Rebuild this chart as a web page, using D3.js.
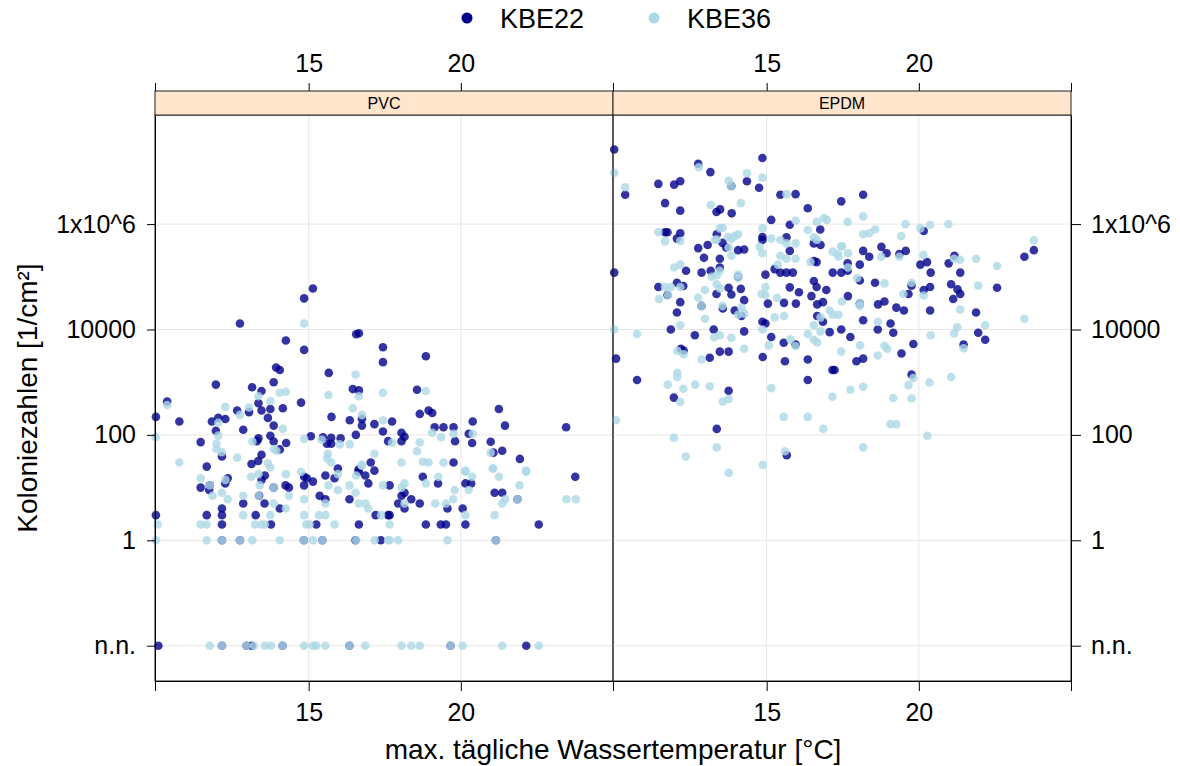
<!DOCTYPE html>
<html>
<head>
<meta charset="utf-8">
<script src="https://cdn.jsdelivr.net/npm/d3@7"></script>
<style>
  body { margin: 0; background: #fff; }
  text { font-family: "Liberation Sans", Arial, sans-serif; }
</style>
</head>
<body>
<svg width="1180" height="766"></svg>
<script>
// panels, groups, ticks
var panels = ["PVC", "EPDM"];
var groups = ["KBE22", "KBE36"];
var groupColors = ["#00008B", "#ADD8E6"];
var xTicks = [15, 20];
var yTicks = [0, 1, 100, 10000, 1e6];
var yTickLabels = ["n.n.", "1", "100", "10000", "1x10^6"];

// [max. daily water temperature, colony count per cm2]; 0 = n.n. (not detected)
var pvcKBE22 = [
  [15.14,60000],[14.85,39000],[12.74,13000],[14.25,6200],[14.85,4100],[16.56,8100],[16.65,8500],[17.44,4600],[17.44,2400],
  [13.93,1900],[14.05,1700],[15.66,1500],[13.85,1000],[11.95,900],[13.14,800],[13.45,680],[16.45,740],[16.65,700],
  [10.35,430],[14.75,410],[13.35,400],[9.98,220],[10.75,180],[11.82,180],[12.03,210],[12.26,200],[12.65,290],[13.04,270],
  [13.45,290],[13.74,310],[14.15,320],[13.66,210],[15.75,220],[16.35,190],[16.75,200],[16.75,150],[17.16,160],[17.44,116],
  [11.95,120],[13.85,150],[12.85,125],[13.74,96],[15.07,94],[15.47,90],[15.74,88],[16.05,86],[16.55,100],[17.61,76],
  [11.45,73],[13.35,86],[13.30,76],[13.85,75],[14.26,70],[15.60,68],[15.74,68],[14.05,53],[12.15,39],[13.45,42],
  [13.34,32],[13.12,28],[11.65,25],[17.04,30],[16.64,22],
  [18.85,3100],[18.56,720],[18.65,250],[18.94,290],[19.06,260],[17.74,180],[18.05,110],[18.15,92],[18.05,76],[19.14,140],
  [19.43,140],[19.76,140],[20.39,180],[21.25,310],[21.45,150],[20.26,105],[19.81,76],[20.37,70],[20.98,74],[21.07,46],
  [21.36,50],[21.94,35],[23.46,140],[19.76,30],
  [11.45,10],[11.73,9],[12.34,15],[12.26,12],[13.56,17],[13.45,14],[14.24,11],[14.35,10],[13.37,7],[13.55,5],[12.85,5],
  [12.15,4],[12.15,3],[11.65,3],[12.15,2],[13.26,3],[13.76,2],[14.05,4],[9.98,3],[14.85,16],[14.94,15],[15.14,13],
  [14.85,11],[15.55,17],[15.85,15],[15.96,23],[15.36,7],[15.55,6],[15.25,2],[16.34,6],[16.65,2],[16.64,20],[16.86,17],
  [17.16,21],[16.96,12],[17.20,3],[17.61,3],[17.37,1],[16.54,1],[10.06,0],
  [18.75,16],[19.25,12],[17.66,11],[18.15,8],[18.05,7],[18.37,6],[17.94,5],[18.15,4],[18.65,5],[19.56,4],[20.06,4],
  [20.15,12],[20.34,12],[21.11,8],[21.36,8],[23.76,16],[17.66,3],[18.85,2],[19.34,2],[19.51,2],[20.15,2],[22.56,2],[22.15,0],
  [11.75,11],[13.85,10],[21.86,6],[12.15,1],[12.74,1],[14.84,1],[15.45,1],[21.15,1],
  [12.15,0],[12.96,0],[13.13,0],[14.14,0],[16.34,0],[19.66,0]
];

var pvcKBE36 = [
  [14.85,13000],[10.35,370],[12.26,340],[16.54,1400],[15.65,570],[16.65,540],[17.44,630],[14.05,630],[14.25,660],
  [13.35,540],[13.74,440],[13.04,330],[12.74,240],[12.03,170],[16.45,320],[16.75,240],[17.44,190],[14.15,130],[12.03,97],
  [9.97,90],[14.85,84],[15.43,81],[16.35,66],[16.02,66],[13.15,75],[11.97,68],[11.97,54],[12.14,47],[13.85,54],[13.94,50],
  [15.63,44],[17.16,44],[10.75,30],[12.65,37],[13.66,29],[13.74,24],[15.74,30],[15.61,36],[16.75,27],
  [18.85,680],[19.06,110],[19.35,90],[19.76,105],[20.39,105],[18.65,72],[18.56,49],[17.74,71],[20.98,46],[18.05,30],
  [18.75,31],[18.94,30],[19.43,30],[20.15,21],[21.06,23],[22.14,21],
  [11.45,15],[11.75,11],[11.84,7],[12.15,8],[12.34,6],[12.26,14],[13.11,16],[13.35,18],[13.39,11],[13.35,7],[12.85,7],
  [13.85,10],[14.25,18],[14.35,7],[13.85,5],[14.25,4],[13.74,3],[12.85,3],[11.45,2],[11.65,2],[13.24,2],[13.44,2],
  [13.56,2],[14.85,6],[14.75,20],[14.85,3],[14.92,2],[15.03,2],[15.34,3],[15.55,3],[15.55,5],[15.65,11],[15.96,9],
  [15.96,18],[15.85,2],[16.34,11],[16.54,8],[16.74,26],[16.65,5],[16.87,5],[16.96,4],[16.56,17],[17.44,11],[10.04,2],[9.98,1],
  [11.65,1],[12.15,1],[12.74,1],[13.15,1],[14.05,1],[14.84,1],[15.14,1],[15.45,1],[16.56,1],[17.17,1],[17.61,1],
  [17.66,1],[17.94,1],[19.56,1],[21.15,1],
  [11.75,0],[12.15,0],[12.96,0],[13.20,0],[13.56,0],[13.76,0],[14.14,0],[14.85,0],[15.14,0],[15.25,0],[15.55,0],
  [16.34,0],[16.86,0],[18.05,0],[18.37,0],[18.65,0],[19.66,0],[20.06,0],[21.36,0],[22.56,0],
  [20.15,20],[20.37,16],[19.26,16],[21.05,23],[21.25,16],[22.15,20],[21.93,11],[18.85,12],[18.15,12],[18.05,10],
  [18.15,5],[19.80,9],[20.26,9],[19.75,6],[19.51,5],[19.16,5],[21.46,6],[21.36,5],[21.86,6],[21.11,3],[20.15,3],
  [17.38,3],[17.66,2],[23.47,6],[23.78,6]
];

var epdmKBE22 = [
  [9.99,2.6e7],[14.86,1.8e7],[12.75,1.4e7],[13.15,9.7e6],[11.44,5.8e6],[11.96,5.6e6],[12.16,6.5e6],[10.35,3.6e6],
  [14.35,6.5e6],[14.75,4.9e6],[15.45,3.6e6],[15.95,3.7e6],[11.66,2.5e6],[12.16,1.8e6],[13.35,1.7e6],[13.47,1.9e6],
  [13.85,1.6e6],[16.35,2.0e6],[17.45,2.7e6],[15.15,1.2e6],[15.76,9.7e5],[11.66,7.0e5],[11.74,7.0e5],[12.16,6.7e5],
  [12.05,5.3e5],[14.86,5.7e5],[14.86,5.0e5],[15.65,5.6e5],[16.76,7.9e5],[13.36,6.4e5],[13.06,4.0e5],[12.75,3.5e5],
  [13.55,4.4e5],[13.67,3.6e5],[14.06,3.2e5],[14.26,3.3e5],[15.76,3.1e5],[16.55,4.3e5],[16.77,4.0e5],[12.94,2.3e5],
  [13.46,2.2e5],[9.99,1.2e5],[12.35,1.3e5],[12.86,1.2e5],[13.16,1.3e5],[13.46,1.5e5],[14.06,1.0e5],[14.96,1.1e5],
  [15.26,1.4e5],[15.45,1.2e5],[15.65,1.2e5],[15.86,1.2e5],[16.55,2.0e5],[16.64,1.9e5],[17.17,1.2e5],[17.45,1.2e5],
  [11.44,6.4e4],[12.05,7.7e4],[12.26,6.7e4],[11.74,4.5e4],[12.16,3.3e4],[12.05,2.1e4],[12.86,2.8e4],[13.35,4.7e4],
  [13.75,6.2e4],[13.84,4.6e4],[14.15,5.9e4],[14.26,3.6e4],[13.56,2.5e4],[13.95,2.3e4],[14.17,1.8e4],[15.76,6.3e4],
  [16.06,5.1e4],[16.55,8.3e4],[16.64,6.4e4],[16.96,5.6e4],[16.47,4.3e4],[16.66,3.0e4],[16.85,3.3e4],[15.04,3.1e4],
  [15.57,3.2e4],[15.96,3.1e4],[16.66,1.8e4],[16.85,1.4e4],[14.86,1.4e4],[14.96,1.3e4],[11.85,1.0e4],[12.64,7.8e3],
  [13.26,1.0e4],[14.26,9.2e3],[15.15,7.2e3],[17.07,8.9e3],[17.45,1.0e4],
  [18.17,3.6e6],[18.17,3.1e5],[18.77,3.7e5],[18.94,2.8e5],[18.37,2.4e5],[19.36,2.7e5],[19.57,3.1e5],[20.16,7.4e5],
  [17.66,1.8e5],[17.66,1.3e5],[18.06,1.7e5],[18.06,8.5e4],[18.56,7.7e4],[20.05,1.7e5],[20.27,1.9e5],[20.39,1.2e5],
  [19.76,6.8e4],[20.37,6.4e4],[20.16,5.6e4],[19.66,4.7e4],[20.98,1.8e5],[21.17,2.5e5],[21.36,1.2e5],[21.06,7.2e4],
  [21.27,5.8e4],[21.36,4.7e4],[21.13,3.8e4],[22.57,6.2e4],[23.47,2.4e5],[23.78,3.2e5],[17.67,4.3e4],[18.06,3.1e4],
  [18.66,3.0e4],[18.87,3.4e4],[19.26,2.6e4],[19.51,2.3e4],[20.37,2.3e4],[21.88,2.1e4],[18.17,1.5e4],[18.65,1.0e4],
  [19.07,1.3e4],[19.16,8.7e3],[17.75,7.2e3],[21.95,8.7e3],[22.18,6.4e3],
  [15.56,5.6e3],[15.95,5.2e3],[10.05,2.8e3],[12.18,4.3e3],[12.27,4.0e3],[13.46,3.8e3],[13.75,3.8e3],[13.13,2.9e3],
  [14.87,3.0e3],[15.60,2.5e3],[16.35,2.7e3],[17.16,1.7e3],[16.35,1.1e3],[10.74,1.1e3],[11.95,510],[13.75,690],
  [13.36,130],[15.66,41],
  [19.82,5.3e3],[19.43,3.5e3],[17.95,2.5e3],[18.17,2.8e3],[17.23,1.7e3],[19.76,1.4e3],[21.47,5.2e3],[13.84,5.3e6]
];

var epdmKBE36 = [
  [9.99,9.4e6],[10.35,5.0e6],[12.77,1.2e7],[14.35,9.2e6],[14.86,7.6e6],[13.75,6.6e6],[13.84,5.3e6],[15.65,3.7e6],
  [13.16,2.3e6],[14.15,2.5e6],[11.44,7.1e5],[11.66,4.7e5],[12.16,4.8e5],[13.46,8.3e5],[13.56,8.5e5],[13.30,5.0e5],
  [13.36,5.1e5],[13.73,5.7e5],[13.84,5.2e5],[13.95,5.9e5],[14.06,6.4e5],[13.75,3.6e5],[13.84,2.5e5],[14.86,8.3e5],
  [15.15,5.3e5],[15.45,5.0e5],[15.65,4.3e5],[15.95,4.3e5],[15.95,1.16e6],[16.65,1.1e6],[16.88,1.3e6],[16.98,1.2e6],
  [16.35,7.7e5],[16.55,5.6e5],[16.65,5.0e5],[14.77,3.7e5],[14.86,2.8e5],[15.45,2.5e5],[15.65,2.2e5],[15.95,2.2e5],
  [17.17,3.0e5],[17.34,2.7e5],[17.45,3.8e5],[11.96,1.5e5],[12.16,1.7e5],[13.19,1.0e5],[13.36,1.07e5],[13.46,1.3e5],
  [14.06,1.1e5],[15.37,1.7e5],[16.44,1.9e5],[11.46,3.8e4],[11.66,6.4e4],[11.85,6.4e4],[11.76,4.5e4],[12.16,6.4e4],
  [12.75,4.0e4],[12.97,5.6e4],[13.36,7.2e4],[13.46,6.0e4],[14.06,9.5e4],[14.96,6.4e4],[14.83,4.7e4],[14.96,4.5e4],
  [15.34,4.0e4],[13.55,2.8e4],[14.17,2.6e4],[14.26,2.0e4],[14.06,1.9e4],[12.16,1.2e4],[12.97,1.6e4],[15.26,1.7e4],
  [15.57,1.8e4],[16.55,1.2e4],[16.77,1.7e4],[17.07,2.3e4],[17.17,1.9e4],[10.74,8.2e3],[13.46,7.8e3],[13.84,7.0e3],
  [14.86,1.0e4],[16.35,8.2e3],[9.99,1.0e4],[12.86,2.8e4],
  [17.66,1.1e6],[18.17,1.4e6],[18.17,6.4e5],[18.37,6.7e5],[18.56,7.9e5],[19.56,1.0e6],[19.42,5.9e5],[20.05,8.3e5],
  [20.37,9.6e5],[20.97,1.0e6],[17.47,3.8e5],[17.36,2.4e5],[17.67,2.8e5],[18.76,2.4e5],[19.36,2.4e5],[20.15,2.6e5],
  [21.36,2.1e5],[21.16,2.2e5],[21.88,2.2e5],[22.57,1.6e5],[23.78,4.9e5],[17.67,1.5e5],[17.97,9.5e4],[18.87,7.5e4],
  [19.76,7.7e4],[19.49,4.7e4],[20.16,4.4e4],[21.95,6.8e4],[17.47,3.4e4],[18.06,3.2e4],[18.06,2.8e4],[17.36,1.9e4],
  [18.65,1.4e4],[21.36,2.4e4],[21.26,1.1e4],[21.16,8.4e3],[22.18,1.2e4],[23.47,1.6e4],[20.39,7.8e3],
  [13.27,7.1e3],[14.26,4.3e3],[15.07,5.0e3],[15.78,6.5e3],[16.55,6.4e3],[16.66,5.7e3],[16.77,9.2e3],[17.45,3.8e3],
  [12.07,3.9e3],[12.27,3.4e3],[12.86,2.7e3],[12.06,1.5e3],[12.06,1250],[11.75,900],[12.26,750],[12.65,900],
  [13.13,840],[12.16,420],[13.56,430],[13.75,480],[15.15,770],[17.16,530],[10.05,190],[15.56,220],[16.35,220],
  [16.86,130],[11.95,88],[13.36,58],[12.34,39],[15.60,49],[14.87,27],[13.75,19],[15.95,4.8e3],
  [18.07,5.0e3],[18.65,3.2e3],[18.87,4.9e3],[18.96,4.3e3],[21.47,4.4e3],[19.82,1.2e3],[19.66,880],[20.35,990],
  [21.06,1250],[17.75,720],[18.17,820],[19.16,500],[19.76,490],[19.07,160],[19.26,160],[20.28,96],[18.17,58]
];

var panelData = [[pvcKBE22, pvcKBE36], [epdmKBE22, epdmKBE36]];

// layout
var svg = d3.select("svg");
var panelLeft = 155, panelW = 458, stripTop = 91, stripH = 24, panelTop = 115, panelH = 566;
var font = "'Liberation Sans', Arial, sans-serif";

var x = d3.scaleLinear().domain([9.95, 25.0]).range([0, panelW]);
var y = d3.scaleLog().domain([Math.pow(10, -2.67), Math.pow(10, 8.07)]).range([panelH, 0]);
// n.n. is drawn at 0.01 on the log axis
function yv(c) { return y(c === 0 ? 0.01 : c); }

panels.forEach(function(name, i) {
  var px = panelLeft + i * panelW;
  var g = svg.append("g").attr("transform", "translate(" + px + "," + panelTop + ")");

  // grid
  g.selectAll(".gx").data(xTicks).enter().append("line")
    .attr("x1", d => x(d)).attr("x2", d => x(d)).attr("y1", 0).attr("y2", panelH)
    .attr("stroke", "#e6e6e6").attr("stroke-width", 1);
  g.selectAll(".gy").data(yTicks).enter().append("line")
    .attr("x1", 0).attr("x2", panelW).attr("y1", d => yv(d)).attr("y2", d => yv(d))
    .attr("stroke", "#e6e6e6").attr("stroke-width", 1);

  // points, KBE36 drawn over KBE22
  panelData[i].forEach(function(series, k) {
    g.append("g").selectAll("circle").data(series).enter().append("circle")
      .attr("cx", d => x(d[0]))
      .attr("cy", d => yv(d[1]))
      .attr("r", 4.3)
      .attr("fill", groupColors[k])
      .attr("fill-opacity", 0.8);
  });

  g.append("rect").attr("width", panelW).attr("height", panelH)
    .attr("fill", "none").attr("stroke", "#222").attr("stroke-width", 1);

  // bottom axis
  var ax = g.append("g").attr("transform", "translate(0," + panelH + ")")
    .call(d3.axisBottom(x).tickValues(xTicks).tickSize(10).tickPadding(12));
  ax.attr("font-size", 25).attr("font-family", font);

  // top axis above the strip
  var at = svg.append("g").attr("transform", "translate(" + px + "," + stripTop + ")")
    .call(d3.axisTop(x).tickValues(xTicks).tickSize(8).tickPadding(11));
  at.attr("font-size", 25).attr("font-family", font);

  // strip
  svg.append("rect")
    .attr("x", px).attr("y", stripTop).attr("width", panelW).attr("height", stripH)
    .attr("fill", "#ffe5cc").attr("stroke", "#222");
  svg.append("text")
    .attr("x", px + panelW / 2).attr("y", stripTop + stripH / 2 + 5.5)
    .attr("text-anchor", "middle").attr("font-size", 16).text(name);
});

// y axes
var yTickPos = yTicks.map(d => d === 0 ? 0.01 : d);
var ya = svg.append("g").attr("transform", "translate(" + panelLeft + "," + panelTop + ")")
  .call(d3.axisLeft(y).tickValues(yTickPos)
    .tickFormat((d, j) => yTickLabels[j]).tickSize(8).tickSizeOuter(0).tickPadding(11));
ya.attr("font-size", 25).attr("font-family", font);

var yb = svg.append("g").attr("transform", "translate(" + (panelLeft + 2 * panelW) + "," + panelTop + ")")
  .call(d3.axisRight(y).tickValues(yTickPos)
    .tickFormat((d, j) => yTickLabels[j]).tickSize(10).tickSizeOuter(0).tickPadding(10));
yb.attr("font-size", 25).attr("font-family", font);

// titles
svg.append("text")
  .attr("x", panelLeft + panelW).attr("y", 759)
  .attr("text-anchor", "middle").attr("font-size", 28)
  .text("max. tägliche Wassertemperatur [°C]");

svg.append("text")
  .attr("transform", "translate(37," + (panelTop + panelH / 2) + ") rotate(-90)")
  .attr("text-anchor", "middle").attr("font-size", 28)
  .text("Koloniezahlen [1/cm²]");

// legend
var legX = [467, 654];
groups.forEach(function(name, k) {
  svg.append("circle").attr("cx", legX[k]).attr("cy", 18).attr("r", 5.5).attr("fill", groupColors[k]);
  svg.append("text").attr("x", legX[k] + 33).attr("y", 28).attr("font-size", 27).text(name);
});
</script>
</body>
</html>
